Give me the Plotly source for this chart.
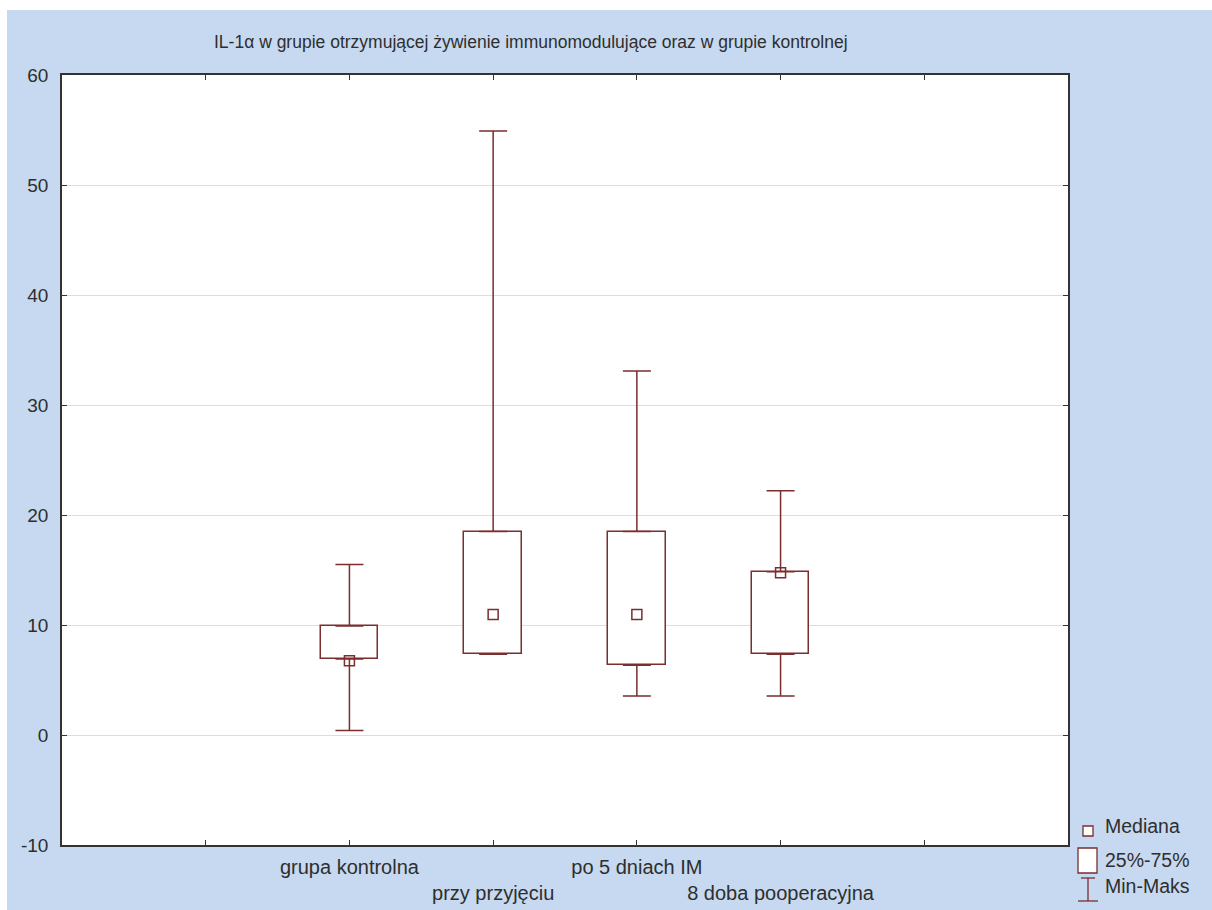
import plotly.graph_objects as go
import numpy as np

categories = ["grupa kontrolna", "przy przyjęciu", "po 5 dniach IM", "8 doba pooperacyjna"]
positions = [1, 2, 3, 4]
minimum = [0.4, 7.35, 3.55, 3.55]
q1 = [6.9, 7.35, 6.35, 7.35]
median = [6.75, 10.95, 10.95, 14.75]
q3 = [9.9, 18.5, 18.5, 14.85]
maximum = [15.5, 54.9, 33.1, 22.2]
y_ticks = [-10, 0, 10, 20, 30, 40, 50, 60]
legend_labels = ["Mediana", "25%-75%", "Min-Maks"]
title_text = "IL-1α w grupie otrzymującej żywienie immunomodulujące oraz w grupie kontrolnej"

W, H = 1212, 910
L, R, T, B = 62, 1068, 75, 845
BOX = "#7a2e2e"
TXT = "#2e2e2e"
BG = "#c6d9f0"
FONT = "Liberation Sans, Arial, sans-serif"

def px_x(p):
    return (p - L) / (R - L)

def px_y(p):
    return (B - p) / (B - T)

fig = go.Figure()

# boxes (25%-75%)
fig.add_trace(go.Bar(
    x=positions, base=q1, y=np.array(q3) - np.array(q1), width=0.4,
    marker=dict(color="white", line=dict(color=BOX, width=1.5)),
    showlegend=False, hoverinfo="skip"))

# upper whiskers
fig.add_trace(go.Scatter(
    x=positions, y=q3, mode="markers",
    marker=dict(size=1, color="rgba(0,0,0,0)"),
    error_y=dict(type="data", symmetric=False,
                 array=list(np.array(maximum) - np.array(q3)),
                 arrayminus=[0] * len(q3), width=14, thickness=1.5, color=BOX),
    showlegend=False, hoverinfo="skip"))

# lower whiskers
fig.add_trace(go.Scatter(
    x=positions, y=q1, mode="markers",
    marker=dict(size=1, color="rgba(0,0,0,0)"),
    error_y=dict(type="data", symmetric=False,
                 array=[0] * len(q1),
                 arrayminus=list(np.array(q1) - np.array(minimum)), width=14, thickness=1.5, color=BOX),
    showlegend=False, hoverinfo="skip"))

# medians
fig.add_trace(go.Scatter(
    x=positions, y=median, mode="markers",
    marker=dict(symbol="square-open", size=10, color=BOX, line=dict(width=1.5, color=BOX)),
    showlegend=False, hoverinfo="skip"))

ticktext = [c if i % 2 == 0 else "<br>" + c for i, c in enumerate(categories)]

fig.update_xaxes(
    range=[-1, 6], tickvals=positions, ticktext=ticktext, tickangle=0, automargin=False,
    ticks="inside", ticklen=5, tickcolor="#333", tickwidth=1,
    minor=dict(tickvals=[-1, 0, 5, 6], ticks="inside", ticklen=5, tickcolor="#333", tickwidth=1),
    showline=True, linecolor="#333", linewidth=1.5, mirror="ticks",
    showgrid=False, zeroline=False, ticklabelstandoff=3,
    tickfont=dict(family=FONT, size=20, color=TXT))

fig.update_yaxes(
    range=[-10, 60], tickvals=y_ticks, ticktext=[str(v) for v in y_ticks], automargin=False,
    ticks="inside", ticklen=5, tickcolor="#333", tickwidth=1,
    showline=True, linecolor="#333", linewidth=1.5, mirror="ticks",
    showgrid=True, gridcolor="#dddddd", gridwidth=1, zeroline=False,
    ticklabelstandoff=8,
    tickfont=dict(family=FONT, size=19, color=TXT))

shapes = []
annotations = []

# white strips at the top and left edge of the page
shapes.append(dict(type="rect", xref="paper", yref="paper", x0=px_x(0), x1=px_x(W), y0=px_y(0), y1=px_y(10),
                   fillcolor="white", line=dict(width=0), layer="above"))
shapes.append(dict(type="rect", xref="paper", yref="paper", x0=px_x(0), x1=px_x(7), y0=px_y(0), y1=px_y(H),
                   fillcolor="white", line=dict(width=0), layer="above"))

# legend symbols
shapes.append(dict(type="rect", xref="paper", yref="paper", x0=px_x(1083), x1=px_x(1093), y0=px_y(836), y1=px_y(826),
                   fillcolor="white", line=dict(color=BOX, width=1.3)))
shapes.append(dict(type="rect", xref="paper", yref="paper", x0=px_x(1078), x1=px_x(1097), y0=px_y(873), y1=px_y(848),
                   fillcolor="white", line=dict(color=BOX, width=1.3)))
shapes.append(dict(type="line", xref="paper", yref="paper", x0=px_x(1088), x1=px_x(1088), y0=px_y(901), y1=px_y(878),
                   line=dict(color=BOX, width=1.3)))
shapes.append(dict(type="line", xref="paper", yref="paper", x0=px_x(1081), x1=px_x(1095), y0=px_y(878), y1=px_y(878),
                   line=dict(color=BOX, width=1.3)))
shapes.append(dict(type="line", xref="paper", yref="paper", x0=px_x(1078), x1=px_x(1098), y0=px_y(901), y1=px_y(901),
                   line=dict(color=BOX, width=1.3)))

for lab, yy in zip(legend_labels, [826, 860, 886]):
    annotations.append(dict(text=lab, xref="paper", yref="paper", x=px_x(1103), y=px_y(yy),
                            xanchor="left", yanchor="middle", showarrow=False,
                            font=dict(family=FONT, size=19.5, color=TXT)))

annotations.append(dict(text=title_text, xref="paper", yref="paper", x=px_x(212), y=px_y(42),
                        xanchor="left", yanchor="middle", showarrow=False,
                        font=dict(family=FONT, size=17.5, color=TXT)))

fig.update_layout(
    width=W, height=H,
    margin=dict(l=L, r=W - R, t=T, b=H - B, pad=0),
    paper_bgcolor=BG, plot_bgcolor="white",
    shapes=shapes, annotations=annotations,
    showlegend=False, bargap=0)

fig.write_html("out.html")
